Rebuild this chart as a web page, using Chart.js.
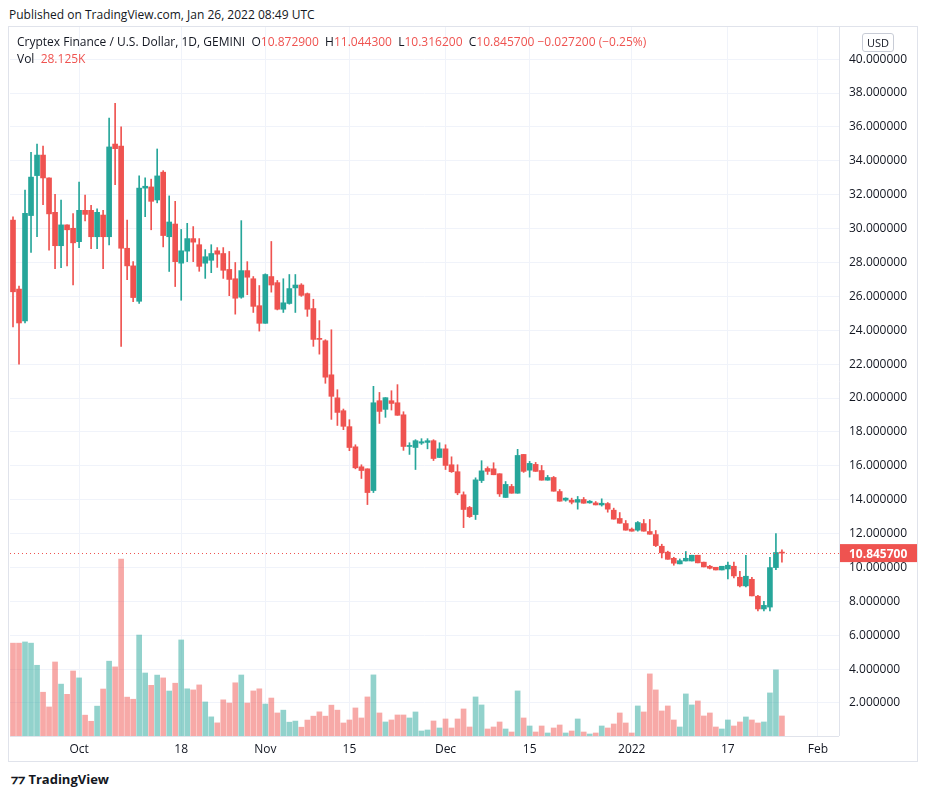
<!DOCTYPE html>
<html><head><meta charset="utf-8">
<script src="https://cdn.jsdelivr.net/npm/chart.js@4"></script>
<style>
body{margin:0;background:#fff;font-family:"Open Sans","Liberation Sans",sans-serif;width:926px;height:797px;position:relative;overflow:hidden}
#frame{position:absolute;left:8px;top:26px;width:908px;height:734px;border:1px solid #e0e3eb}
#wrap{position:absolute;left:9px;top:27px;width:908px;height:734px}
.t{position:absolute;white-space:nowrap;color:#131722}
.r{color:#ef5350}
</style></head><body>
<div class="t" style="left:9px;top:6px;font-size:12px;">Published on TradingView.com, Jan 26, 2022 08:49 UTC</div>
<div id="frame"></div>
<div id="wrap"><canvas id="c" width="908" height="734" style="width:908px;height:734px"></canvas></div>
<div class="t" style="left:17px;top:33px;font-size:12px;">Cryptex Finance / U.S. Dollar, 1D, GEMINI &nbsp;O<span class="r">10.872900</span> &nbsp;H<span class="r">11.044300</span> &nbsp;L<span class="r">10.316200</span> &nbsp;C<span class="r">10.845700</span> <span class="r">−0.027200 (−0.25%)</span></div>
<div class="t" style="left:17px;top:50px;font-size:12px;">Vol &nbsp;<span class="r">28.125K</span></div>
<div class="t" style="left:862px;top:33px;font-size:11px;border:1px solid #c8ccd6;border-radius:3px;padding:1px 4px;">USD</div>
<div class="t" style="left:11px;top:770px;font-size:13px;font-weight:bold;">⁊⁊ TradingView</div>
<script>
const open_=[30.5,26.43,24.55,30.77,33.13,34.34,32.99,30.96,28.99,30.22,30.02,29.23,31.08,31.08,29.52,30.8,29.52,34.99,34.87,28.84,27.8,25.71,32.39,32.46,31.69,33.33,29.52,30.27,
27.96,28.67,29.41,29.05,27.96,28.13,28.69,28.53,27.59,27.04,25.95,27.52,27.04,25.45,24.41,27.17,26.81,25.24,25.58,26.5,26.67,26.16,25.28,23.49,23.38,21.37,20.01,
19.25,18.31,17.12,15.94,15.82,14.54,19.84,19.33,19.84,19.72,19.01,17.14,17.08,17.34,17.38,17.48,16.49,17.0,16.06,15.65,14.29,13.54,13.12,15.13,15.84,15.82,15.53,
14.13,14.78,14.38,16.67,15.74,16.08,15.72,15.15,15.31,14.48,13.97,13.97,13.85,14.01,13.81,13.81,13.69,13.77,13.38,12.89,12.59,12.26,12.2,12.59,12.12,11.94,
11.25,10.9,10.54,10.21,10.38,10.38,10.72,10.31,10.07,10.01,9.85,9.91,10.07,9.42,8.91,9.3,8.3,7.55,7.66,9.99,10.8729];
const high=[30.7,26.6,32.27,34.5,34.99,34.87,33.0,32.02,31.69,30.22,30.89,32.75,31.98,31.37,31.16,31.08,36.53,37.4,36.0,30.5,28.05,33.11,32.99,32.92,34.7,33.42,31.93,31.61,
29.95,30.31,30.12,29.41,28.76,29.05,28.88,28.88,28.65,28.0,30.47,28.05,27.17,26.64,27.33,29.24,26.94,27.04,27.29,27.29,26.75,26.2,25.83,24.57,23.44,24.03,20.49,
19.35,18.72,17.24,16.06,15.82,20.69,20.33,20.02,20.43,20.79,19.19,17.36,17.54,17.6,17.6,17.54,17.36,17.24,16.53,16.06,14.46,13.6,15.29,16.3,15.94,16.18,15.53,
15.07,14.9,16.97,16.67,16.26,16.2,16.02,15.43,15.37,14.6,14.11,14.09,14.19,14.13,13.95,13.89,14.05,13.83,13.5,13.24,12.77,12.33,12.71,12.83,12.83,12.18,
11.37,10.96,10.6,10.5,10.94,10.72,10.72,10.31,10.13,10.01,10.07,10.31,10.31,9.77,10.72,9.42,8.35,8.0,10.6,12.0,11.0443];
const low=[24.2,22.0,24.43,28.6,29.52,31.42,28.72,27.64,27.69,27.8,26.67,28.87,30.46,28.82,28.82,27.64,29.04,32.6,23.04,26.99,25.69,25.59,30.7,29.93,31.52,28.92,27.47,26.58,
25.77,28.05,28.05,27.48,27.06,27.4,27.71,27.06,26.04,24.95,25.89,26.1,25.05,23.95,24.41,26.25,25.2,25.05,25.54,25.05,26.0,24.82,23.05,22.59,20.87,18.74,18.38,
18.13,16.89,15.82,15.25,13.71,14.42,18.5,18.86,19.29,18.98,16.91,16.67,15.78,17.26,17.0,16.31,16.49,15.78,15.61,14.29,12.35,12.95,12.83,15.01,15.49,15.47,14.19,
14.13,14.38,14.38,15.61,15.33,15.67,15.15,15.15,14.5,13.91,13.91,13.75,13.44,13.79,13.79,13.69,13.62,13.26,12.85,12.61,12.2,12.14,12.14,12.14,11.96,11.23,
10.56,10.48,10.13,10.21,10.38,10.38,10.27,10.03,9.91,9.85,9.85,9.32,9.38,8.85,8.85,8.32,7.43,7.43,7.43,9.87,10.3162];
const close_=[26.27,24.43,30.9,33.04,34.34,32.99,30.87,28.99,30.22,29.93,29.16,31.08,30.84,29.52,30.96,29.52,34.82,34.72,28.84,27.8,25.93,32.39,32.5,31.61,33.11,29.59,30.39,28.05,
28.69,29.41,29.2,27.77,28.34,28.53,28.49,27.54,27.0,25.89,27.52,27.13,25.41,24.41,27.29,26.67,25.24,25.62,26.46,26.67,26.06,25.24,23.46,23.46,21.23,20.1,19.15,
18.33,17.08,15.88,15.72,14.42,19.72,19.21,20.02,19.68,18.98,17.14,17.18,17.48,17.42,17.48,16.43,17.0,16.02,15.65,14.4,13.42,13.0,15.17,15.7,15.67,15.47,14.34,
14.9,14.38,16.61,15.67,16.14,15.67,15.15,15.31,14.5,13.91,14.09,13.85,14.01,13.79,13.91,13.69,13.79,13.44,12.85,12.61,12.2,12.14,12.65,12.14,11.96,11.29,
10.86,10.48,10.25,10.4,10.54,10.72,10.27,10.03,9.95,9.85,10.07,10.13,9.5,8.91,9.48,8.32,7.55,7.76,9.99,10.88,10.8457];
const volumeK=[92.7,92.7,93.9,92.7,70.6,43.7,29,73.9,51.8,41.6,64.9,58,20.8,14.7,29.8,46.9,74.7,69,176.7,38.8,36.7,100.8,62.9,50.6,60.8,58,44.9,52.7,
95.9,47.1,46,51,34,19.1,13.1,36.1,32.9,53.1,60.9,32.9,45,47.1,31.9,37.9,23,25.8,13.8,14.9,8.8,15.9,19.8,24.1,19.8,30.8,25.8,
13,16,28,18,39,61,23,14,16,21,21,18,24,5,6,15,8,17,8,17,27,9,39,31,7,9,14,
7,4,45,18,10,4,10,3,8,11,3,5,17,4,2,3,10,8,12,23,13,3,30,24,62,46,
25,30,16,9,42,31,35,20,23,9,7,16,10,14,19,16,13,14,43,66,20].map(v=>v*1.4);
const priceTicks=[2,4,6,8,10,12,14,16,18,20,22,24,26,28,30,32,34,36,38,40];
const xTickLabels={11:"Oct",28:"18",42:"Nov",56:"15",72:"Dec",86:"15",103:"2022",119:"17",134:"Feb"};
const lastPrice=10.8457;

const RED="#ef5350",GREEN="#26a69a";
const nDays=138;
const labels=[];const d0=new Date(Date.UTC(2021,8,20));
for(let i=0;i<nDays;i++){const d=new Date(d0.getTime()+i*864e5);labels.push(d.toISOString().slice(0,10));}
const up=close_.map((c,i)=>c>=open_[i]);
const col=up.map(u=>u?GREEN:RED);
const vcol=up.map(u=>u?"rgba(38,166,154,0.5)":"rgba(239,83,80,0.5)");
const wick=low.map((l,i)=>[l,high[i]]);
const body=open_.map((o,i)=>{let a=Math.min(o,close_[i]),b=Math.max(o,close_[i]);if(b-a<0.06){b=a+0.06;}return [a,b];});

const overlay={id:"ov",afterDatasetsDraw(ch){const c=ch.ctx,y=ch.scales.y,a=ch.chartArea;const py=y.getPixelForValue(lastPrice);
c.save();c.strokeStyle=RED;c.setLineDash([1,3]);c.lineWidth=1;c.beginPath();c.moveTo(a.left,Math.round(py)+0.5);c.lineTo(a.right,Math.round(py)+0.5);c.stroke();
c.setLineDash([]);c.fillStyle=RED;c.fillRect(a.right+1,py-9,77,18);c.fillStyle="#fff";c.font="bold 12px 'Open Sans'";c.textBaseline="middle";c.fillText(lastPrice.toFixed(6),a.right+10,py+1);
c.strokeStyle="#e0e3eb";c.beginPath();c.moveTo(a.right+0.5,a.top);c.lineTo(a.right+0.5,a.bottom);c.moveTo(a.left,a.bottom+0.5);c.lineTo(a.right,a.bottom+0.5);c.stroke();c.restore();}};

new Chart(document.getElementById("c"),{
 data:{labels,datasets:[
  {type:"bar",data:body,backgroundColor:col,barThickness:5,grouped:false,yAxisID:"y",order:1},
  {type:"bar",data:wick,backgroundColor:col,barThickness:1,grouped:false,yAxisID:"y",order:2},
  {type:"bar",data:volumeK,backgroundColor:vcol,barThickness:5,grouped:false,yAxisID:"v",order:3}
 ]},
 plugins:[overlay],
 options:{responsive:false,animation:false,devicePixelRatio:1,
  layout:{padding:{left:1,top:0,right:0,bottom:0}},
  plugins:{legend:{display:false},tooltip:{enabled:false}},
  scales:{
   x:{type:"category",offset:true,grid:{color:"#f0f3fa",drawTicks:false,offset:false},border:{display:false},
      afterBuildTicks(s){s.ticks=Object.keys(xTickLabels).map(k=>({value:+k}));},
      afterFit(s){s.height=25;s.paddingLeft=0;s.paddingRight=0;},
      ticks:{autoSkip:false,maxRotation:0,padding:6,color:"#131722",font:{size:12,family:"'Open Sans'"},callback:(v)=>xTickLabels[v]||""}},
   y:{position:"right",min:0.05,max:41.9,grid:{color:"#f0f3fa",drawTicks:false},border:{display:false},
      afterBuildTicks(s){s.ticks=priceTicks.map(v=>({value:v}));},
      afterFit(s){s.width=78;s.paddingTop=0;s.paddingBottom=0;},
      ticks:{autoSkip:false,padding:10,color:"#131722",font:{size:12,family:"'Open Sans'"},callback:v=>v.toFixed(6)}},
   v:{display:false,min:0,max:991}
  }}
});
</script>
</body></html>
